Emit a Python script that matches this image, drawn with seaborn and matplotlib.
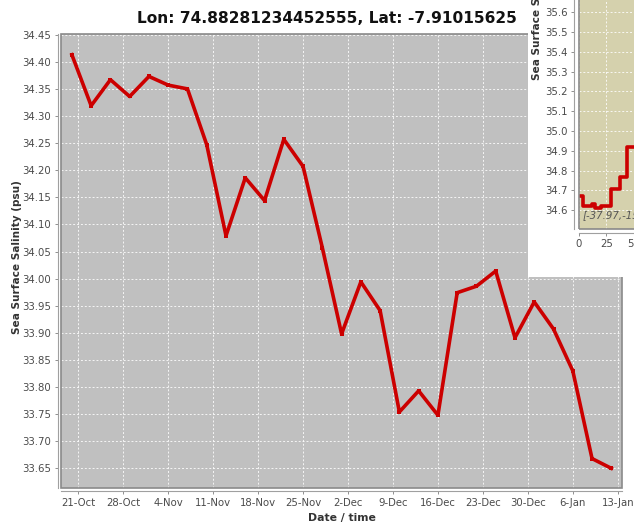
import matplotlib
matplotlib.use("Agg")
import matplotlib.pyplot as plt
import matplotlib.dates as mdates
from matplotlib.ticker import MultipleLocator, FormatStrFormatter
from matplotlib.patches import Rectangle
import pandas as pd
import seaborn as sns

# ---- data -------------------------------------------------------------
title_text = "Lon: 74.88281234452555, Lat: -7.91015625"
y_label = "Sea Surface Salinity (psu)"
x_label = "Date / time"

dates = pd.date_range("2012-10-20", periods=29, freq="3D")
salinity = [34.413, 34.319, 34.367, 34.336, 34.373, 34.357, 34.350, 34.247,
            34.079, 34.186, 34.144, 34.257, 34.207, 34.057, 33.898, 33.994,
            33.941, 33.754, 33.793, 33.748, 33.974, 33.986, 34.014, 33.891,
            33.957, 33.907, 33.830, 33.668, 33.650]
tick_dates = pd.date_range("2012-10-21", "2013-01-13", freq="7D")

# second window: salinity profile at another location
profile_x = [0, 4, 12, 15, 20, 29, 37, 44, 80]
profile_sal = [34.67, 34.62, 34.63, 34.61, 34.62, 34.71, 34.77, 34.92, 34.92]
profile_note = "[-37.97,-158.20]"

# ---- style ------------------------------------------------------------
W, H = 634, 527
RED = "#cc0000"
PLOT_BG = "#c0c0c0"
TAN_BG = "#d5d1ad"
OUTLINE = "#8a8a8a"
AXIS_LINE = "#a0a0a0"
TICK_TXT = "#4a4a4a"
LABEL_TXT = "#333333"


def px_box(x0, y0, x1, y1):
    """Pixel box (top-left origin) -> figure fraction rect."""
    return [x0 / W, 1 - y1 / H, (x1 - x0) / W, (y1 - y0) / H]


def style_axes(ax, bg, offset):
    ax.set_facecolor(bg)
    for s in ("top", "right"):
        ax.spines[s].set_visible(False)
    for s in ("left", "bottom"):
        ax.spines[s].set_position(("outward", offset))
        ax.spines[s].set_color(AXIS_LINE)
        ax.spines[s].set_linewidth(0.8)
    ax.add_patch(Rectangle((0, 0), 1, 1, transform=ax.transAxes, fill=False,
                           edgecolor=OUTLINE, linewidth=1.2, clip_on=False,
                           zorder=5))
    ax.grid(True, color="white", linestyle=(0, (2, 2)), linewidth=0.7,
            alpha=0.85)
    ax.set_axisbelow(True)
    ax.tick_params(axis="both", direction="out", length=2.2, width=0.7,
                   color="#909090", labelsize=7.3, labelcolor=TICK_TXT,
                   pad=2.4)
    ax.set_xlabel("")
    ax.set_ylabel("")


fig = plt.figure(figsize=(W / 100, H / 100), dpi=100)
fig.patch.set_facecolor("white")

# ---- main time series -------------------------------------------------
ax = fig.add_axes(px_box(61, 34, 622, 488))
sns.lineplot(x=dates, y=salinity, ax=ax, color=RED, linewidth=2.6,
             marker="s", markersize=3.4, markeredgewidth=0, zorder=3)
style_axes(ax, PLOT_BG, 2.5)
ax.set_xlim(pd.Timestamp("2012-10-18 07:20"), pd.Timestamp("2013-01-13 16:00"))
ax.set_ylim(33.6137, 34.4513)
ax.set_xticks(tick_dates)
ax.xaxis.set_major_formatter(mdates.DateFormatter("%-d-%b"))
ax.yaxis.set_major_locator(MultipleLocator(0.05))
ax.yaxis.set_major_formatter(FormatStrFormatter("%.2f"))

fig.text(137 / W, 1 - 22.7 / H, title_text, ha="left", va="baseline",
         fontsize=11.1, fontweight="bold", color="#111111")
fig.text(17.5 / W, 1 - 257 / H, y_label, rotation=90, ha="center",
         va="center", fontsize=7.6, fontweight="bold", color=LABEL_TXT)
fig.text(341.5 / W, 1 - 518 / H, x_label, ha="center", va="center",
         fontsize=7.8, fontweight="bold", color=LABEL_TXT)

# ---- overlapping profile window ---------------------------------------
fig.patches.append(Rectangle((528 / W, 1 - 277 / H), (W - 528) / W, 277 / H,
                             transform=fig.transFigure, facecolor="white",
                             edgecolor="none", zorder=10))

ax2 = fig.add_axes(px_box(578.5, -215, 760, 228.5), zorder=11)
sns.lineplot(x=profile_x, y=profile_sal, ax=ax2, color=RED, linewidth=2.6,
             drawstyle="steps-post", zorder=3)
style_axes(ax2, TAN_BG, 3)
ax2.set_xlim(-0.2, -0.2 + (760 - 578.5) / 1.108)
ax2.set_ylim(34.508, 36.748)
ax2.xaxis.set_major_locator(MultipleLocator(25))
ax2.yaxis.set_major_locator(MultipleLocator(0.1))
ax2.yaxis.set_major_formatter(FormatStrFormatter("%.1f"))
ax2.text(0.02, 0.018, profile_note, transform=ax2.transAxes, ha="left",
         va="bottom", fontsize=7.3, style="italic", color="#555555")

fig.text(537 / W, 1 - 80 / H, y_label, rotation=90, ha="center", va="bottom",
         fontsize=7.6, fontweight="bold", color=LABEL_TXT, zorder=12)

fig.savefig("out.png", dpi=100, facecolor="white")
